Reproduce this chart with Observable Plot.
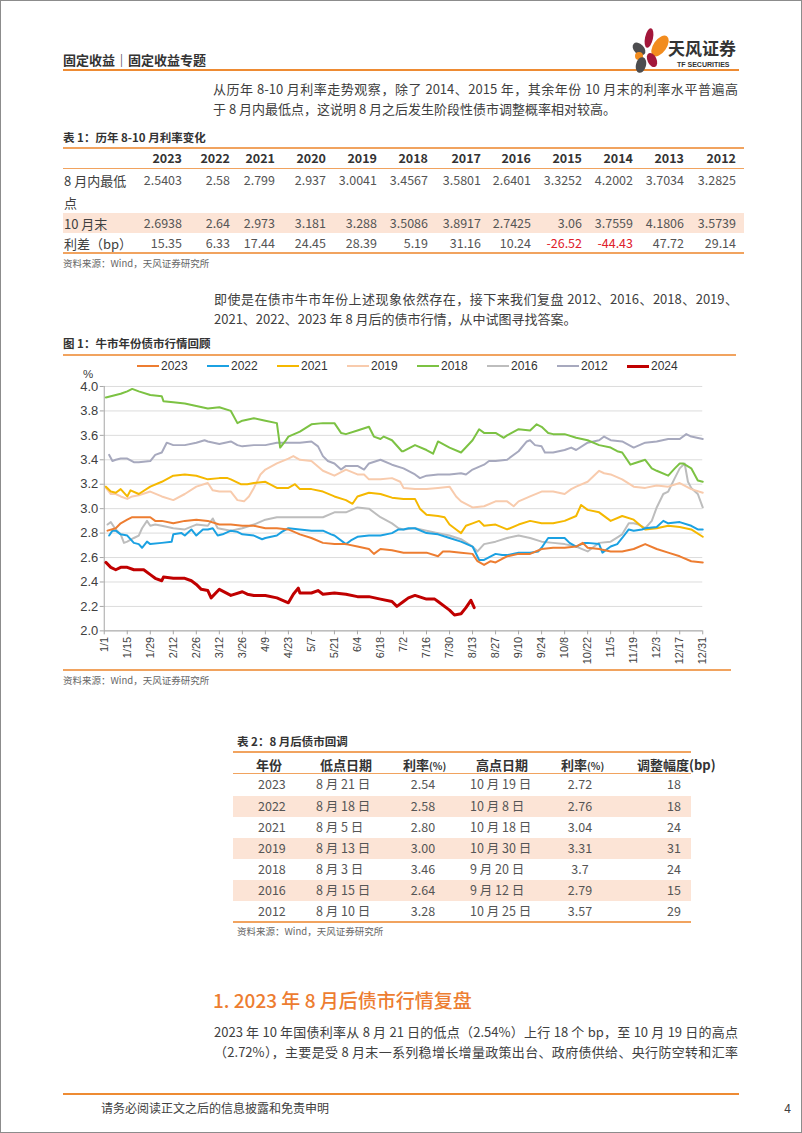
<!DOCTYPE html>
<html><head><meta charset="utf-8">
<script src="https://cdn.jsdelivr.net/npm/d3@7"></script>
<script src="https://cdn.jsdelivr.net/npm/@observablehq/plot@0.6"></script>
<style>
body{margin:0;background:#fff;}
#page{position:relative;width:802px;height:1133px;overflow:hidden;font-family:"Noto Sans CJK SC","Noto Sans",sans-serif;color:#404040;box-sizing:border-box;border:1px solid #8c8c8c;background:#fff;}
.t{position:absolute;white-space:nowrap;line-height:1;}
.b{position:absolute;}
</style></head><body><div id="page"></div>
<script>
// ---------- chart data (day offset from 1/1, yield %) ----------
const tickLabels = ["1/1","1/15","1/29","2/12","2/26","3/12","3/26","4/9","4/23","5/7","5/21","6/4","6/18","7/2","7/16","7/30","8/13","8/27","9/10","9/24","10/8","10/22","11/5","11/19","12/3","12/17","12/31"];
const tickDays = [0,14,28,42,56,70,84,98,112,126,140,154,168,182,196,210,224,238,252,266,280,294,308,322,336,350,364];
const yTicks = [2.0,2.2,2.4,2.6,2.8,3.0,3.2,3.4,3.6,3.8,4.0];

const s2023 = [[2,2.82],[7,2.84],[10,2.88],[14,2.91],[17,2.93],[21,2.93],[28,2.93],[31,2.90],[35,2.90],[42,2.88],[49,2.90],[56,2.91],[63,2.90],[70,2.87],[77,2.87],[84,2.86],[91,2.86],[98,2.84],[105,2.84],[112,2.83],[119,2.79],[126,2.76],[133,2.72],[140,2.71],[147,2.71],[154,2.69],[161,2.67],[164,2.63],[168,2.67],[175,2.66],[182,2.64],[189,2.64],[196,2.64],[203,2.61],[206,2.65],[210,2.65],[217,2.64],[224,2.63],[227,2.57],[231,2.54],[235,2.57],[238,2.56],[242,2.59],[245,2.61],[252,2.63],[259,2.63],[266,2.67],[273,2.68],[280,2.68],[287,2.69],[291,2.72],[294,2.68],[301,2.67],[308,2.65],[315,2.65],[322,2.67],[329,2.71],[336,2.67],[343,2.64],[350,2.61],[357,2.57],[364,2.56]];
const s2022 = [[3,2.78],[5,2.82],[7,2.82],[10,2.79],[14,2.78],[18,2.72],[21,2.71],[23,2.68],[26,2.73],[28,2.71],[35,2.72],[41,2.73],[42,2.79],[47,2.80],[49,2.78],[53,2.83],[56,2.78],[60,2.83],[63,2.83],[66,2.84],[69,2.78],[72,2.79],[77,2.82],[81,2.81],[84,2.79],[91,2.78],[96,2.75],[98,2.76],[105,2.78],[108,2.81],[112,2.84],[119,2.83],[126,2.82],[133,2.82],[138,2.79],[140,2.78],[147,2.71],[150,2.74],[154,2.77],[161,2.78],[168,2.78],[175,2.80],[179,2.83],[182,2.83],[185,2.84],[189,2.84],[196,2.80],[203,2.79],[210,2.76],[217,2.73],[224,2.69],[228,2.58],[231,2.58],[238,2.63],[242,2.62],[245,2.62],[252,2.64],[259,2.64],[264,2.65],[266,2.68],[270,2.76],[273,2.76],[280,2.76],[283,2.72],[287,2.69],[292,2.72],[294,2.72],[301,2.71],[303,2.64],[308,2.69],[312,2.71],[315,2.76],[319,2.83],[322,2.82],[327,2.83],[329,2.84],[336,2.85],[340,2.90],[343,2.88],[350,2.89],[357,2.86],[361,2.83],[364,2.83]];
const s2021 = [[1,3.18],[4,3.14],[7,3.13],[10,3.16],[14,3.10],[16,3.15],[21,3.12],[28,3.18],[35,3.22],[42,3.27],[49,3.28],[56,3.27],[63,3.24],[70,3.25],[75,3.25],[77,3.24],[83,3.20],[87,3.20],[91,3.21],[98,3.22],[105,3.17],[112,3.17],[116,3.20],[119,3.16],[126,3.16],[133,3.14],[140,3.10],[147,3.07],[151,3.04],[154,3.10],[161,3.13],[168,3.12],[175,3.09],[182,3.08],[189,3.08],[192,3.00],[196,2.95],[203,2.94],[207,2.93],[210,2.87],[214,2.83],[217,2.80],[220,2.86],[224,2.88],[228,2.90],[231,2.86],[238,2.87],[245,2.83],[252,2.87],[259,2.90],[266,2.88],[273,2.88],[280,2.90],[287,2.94],[290,3.03],[294,2.99],[301,2.97],[308,2.90],[315,2.94],[322,2.91],[329,2.83],[336,2.84],[343,2.86],[350,2.85],[357,2.83],[364,2.77]];
const s2019 = [[1,3.17],[4,3.12],[7,3.12],[10,3.10],[14,3.08],[17,3.10],[21,3.11],[28,3.14],[35,3.10],[42,3.07],[49,3.12],[56,3.18],[63,3.21],[66,3.15],[70,3.14],[77,3.14],[81,3.07],[85,3.06],[88,3.10],[91,3.17],[95,3.28],[98,3.32],[105,3.37],[112,3.41],[115,3.43],[119,3.40],[126,3.39],[133,3.31],[140,3.27],[147,3.32],[154,3.28],[158,3.28],[161,3.24],[168,3.24],[175,3.25],[180,3.22],[182,3.17],[189,3.16],[196,3.16],[203,3.17],[210,3.18],[214,3.10],[217,3.06],[224,3.01],[231,3.02],[238,3.06],[245,3.06],[249,3.02],[252,3.06],[259,3.10],[266,3.14],[273,3.14],[280,3.12],[284,3.16],[287,3.18],[294,3.22],[301,3.31],[304,3.29],[308,3.28],[315,3.24],[322,3.18],[329,3.17],[336,3.19],[343,3.18],[350,3.21],[357,3.16],[364,3.13]];
const s2018 = [[1,3.91],[7,3.93],[10,3.94],[14,3.96],[17,3.98],[21,3.96],[28,3.93],[35,3.92],[36,3.88],[42,3.87],[49,3.86],[56,3.84],[63,3.82],[70,3.83],[77,3.80],[81,3.70],[84,3.72],[91,3.74],[98,3.72],[105,3.70],[107,3.50],[110,3.55],[112,3.59],[119,3.63],[126,3.69],[133,3.70],[140,3.70],[144,3.62],[147,3.61],[154,3.64],[161,3.67],[164,3.59],[168,3.57],[170,3.59],[175,3.56],[181,3.47],[182,3.47],[189,3.52],[196,3.48],[200,3.45],[203,3.55],[210,3.50],[217,3.46],[224,3.56],[228,3.65],[231,3.62],[238,3.62],[243,3.58],[245,3.60],[252,3.65],[259,3.64],[263,3.69],[266,3.67],[270,3.62],[273,3.61],[280,3.61],[287,3.58],[294,3.56],[301,3.52],[308,3.50],[312,3.47],[315,3.46],[320,3.36],[322,3.37],[329,3.40],[333,3.33],[336,3.31],[343,3.27],[347,3.33],[350,3.37],[352,3.37],[357,3.33],[361,3.23],[364,3.22]];
const s2016 = [[2,2.87],[4,2.89],[7,2.83],[10,2.79],[12,2.72],[14,2.73],[18,2.76],[21,2.78],[23,2.84],[26,2.90],[28,2.86],[31,2.87],[35,2.86],[42,2.84],[49,2.83],[56,2.87],[63,2.86],[66,2.92],[69,2.84],[77,2.82],[84,2.84],[91,2.87],[98,2.91],[105,2.93],[112,2.93],[119,2.93],[126,2.93],[133,2.93],[140,2.97],[147,2.97],[154,3.01],[161,3.00],[168,2.93],[175,2.88],[179,2.84],[182,2.83],[189,2.84],[196,2.82],[203,2.80],[210,2.78],[217,2.75],[224,2.69],[227,2.65],[231,2.71],[238,2.73],[245,2.76],[252,2.78],[259,2.76],[266,2.73],[273,2.72],[280,2.71],[287,2.69],[294,2.65],[298,2.69],[301,2.72],[308,2.73],[315,2.79],[319,2.88],[322,2.88],[325,2.87],[329,2.84],[333,2.90],[336,3.01],[340,3.12],[343,3.14],[347,3.25],[350,3.33],[353,3.37],[355,3.22],[357,3.17],[361,3.12],[364,3.01]];
const s2012 = [[3,3.44],[5,3.39],[7,3.40],[10,3.41],[14,3.41],[18,3.38],[21,3.38],[28,3.39],[31,3.44],[35,3.46],[38,3.54],[42,3.52],[49,3.52],[56,3.54],[61,3.56],[63,3.55],[70,3.53],[77,3.55],[81,3.52],[84,3.51],[91,3.52],[98,3.52],[105,3.54],[112,3.54],[119,3.54],[126,3.55],[130,3.51],[133,3.43],[136,3.39],[140,3.37],[144,3.32],[147,3.35],[154,3.35],[158,3.32],[161,3.37],[168,3.40],[175,3.36],[182,3.33],[189,3.28],[192,3.25],[196,3.27],[203,3.28],[210,3.28],[217,3.29],[220,3.28],[224,3.32],[231,3.36],[234,3.39],[238,3.39],[245,3.40],[252,3.47],[257,3.55],[259,3.56],[262,3.52],[266,3.51],[268,3.46],[273,3.46],[280,3.48],[284,3.50],[287,3.48],[294,3.54],[301,3.56],[304,3.59],[308,3.56],[315,3.55],[322,3.50],[329,3.54],[336,3.55],[343,3.57],[350,3.57],[354,3.61],[357,3.59],[364,3.57]];
const s2024 = [[1,2.56],[4,2.52],[7,2.50],[10,2.52],[14,2.52],[18,2.50],[21,2.50],[24,2.50],[28,2.46],[31,2.43],[35,2.41],[36,2.44],[42,2.43],[49,2.43],[53,2.41],[56,2.38],[59,2.34],[63,2.33],[65,2.27],[70,2.34],[77,2.29],[84,2.32],[87,2.30],[91,2.29],[98,2.29],[105,2.27],[112,2.23],[115,2.30],[118,2.35],[119,2.31],[126,2.31],[130,2.33],[133,2.30],[140,2.31],[147,2.30],[154,2.28],[161,2.28],[168,2.26],[175,2.24],[178,2.20],[182,2.24],[185,2.27],[189,2.29],[196,2.26],[201,2.26],[203,2.24],[210,2.17],[213,2.13],[217,2.14],[220,2.19],[223,2.25],[225,2.19]];

const legendNames = ["2023","2022","2021","2019","2018","2016","2012","2024"];
const legendColors = ["#ED7D31","#1BA1E2","#F5B800","#F8CBAD","#7CC243","#BDBDBD","#A7A9BE","#C00000"];

// ---------- table data ----------
const t1Years = ["2023","2022","2021","2020","2019","2018","2017","2016","2015","2014","2013","2012"];
const t1AugLow = ["2.5403","2.58","2.799","2.937","3.0041","3.4567","3.5801","2.6401","3.3252","4.2002","3.7034","3.2825"];
const t1OctEnd = ["2.6938","2.64","2.973","3.181","3.288","3.5086","3.8917","2.7425","3.06","3.7559","4.1806","3.5739"];
const t1Spread = ["15.35","6.33","17.44","24.45","28.39","5.19","31.16","10.24","-26.52","-44.43","47.72","29.14"];

const t2Years = ["2023","2022","2021","2019","2018","2016","2012"];
const t2LowDate = ["8 月 21 日","8 月 18 日","8 月 5 日","8 月 13 日","8 月 3 日","8 月 15 日","8 月 10 日"];
const t2LowRate = ["2.54","2.58","2.80","3.00","3.46","2.64","3.28"];
const t2HighDate = ["10 月 19 日","10 月 8 日","10 月 18 日","10 月 30 日","9 月 20 日","9 月 12 日","10 月 25 日"];
const t2HighRate = ["2.72","2.76","3.04","3.31","3.7","2.79","3.57"];
const t2Adj = ["18","18","24","31","24","15","29"];

// ---------- helpers ----------
const page = document.getElementById("page");
function T(x, y, s, str, o = {}) {
  const d = document.createElement("div");
  d.className = "t";
  if (o.html) d.innerHTML = str; else d.textContent = str;
  let left = x;
  if (o.align === "right") { left = x - 100; d.style.width = "100px"; d.style.textAlign = "right"; }
  if (o.align === "center") { left = x - 50; d.style.width = "100px"; d.style.textAlign = "center"; }
  if (o.justify) { d.style.width = o.justify + "px"; d.style.textAlign = "justify"; d.style.textAlignLast = "justify"; d.style.whiteSpace = "normal"; d.style.height = s + "px"; d.style.overflow = "visible"; }
  d.style.left = left + "px";
  d.style.top = (y - s / 2) + "px";
  d.style.fontSize = s + "px";
  if (o.weight) d.style.fontWeight = o.weight;
  if (o.color) d.style.color = o.color;
  if (o.font) d.style.fontFamily = o.font;
  page.appendChild(d);
  return d;
}
function R(x, y, w, h, c) {
  const d = document.createElement("div");
  d.className = "b";
  Object.assign(d.style, {left: x + "px", top: y + "px", width: w + "px", height: h + "px", background: c});
  page.appendChild(d);
  return d;
}
const ORANGE = "#EE8B33", TLINE = "#F1A35F", PINK = "#FCE4D6";
const ARIAL = '"Liberation Sans", Arial, sans-serif';

// ---------- header ----------
T(62, 58, 13, "固定收益｜固定收益专题", {weight: 700, color: "#333"});
R(62, 68, 676, 2, ORANGE);
const logo = document.createElementNS("http://www.w3.org/2000/svg", "svg");
logo.setAttribute("width", "40"); logo.setAttribute("height", "46");
logo.style.position = "absolute"; logo.style.left = "628px"; logo.style.top = "26px";
logo.innerHTML = `
<ellipse cx="20" cy="11" rx="4" ry="10" fill="#A3173A" transform="rotate(12 20 11)"/>
<ellipse cx="31" cy="19" rx="6.5" ry="12" fill="#F28C1E" transform="rotate(35 31 19)"/>
<ellipse cx="10" cy="22" rx="5" ry="7.5" fill="#4D4D4F" transform="rotate(-45 10 22)"/>
<ellipse cx="10" cy="29" rx="4" ry="4" fill="#F28C1E"/>
<ellipse cx="12" cy="38" rx="5" ry="8" fill="#4D4D4F" transform="rotate(15 12 38)"/>
<ellipse cx="23" cy="33" rx="4.5" ry="7.5" fill="#A3173A" transform="rotate(-25 23 33)"/>`;
page.appendChild(logo);
T(667, 46, 17, "天风证券", {weight: 700, color: "#333"});
T(676, 63, 7, "TF SECURITIES", {weight: 700, color: "#333", font: ARIAL});

// ---------- paragraph 1 ----------
T(212, 87, 13, "从历年 8-10 月利率走势观察，除了 2014、2015 年，其余年份 10 月末的利率水平普遍高", {justify: 525});
T(212, 107, 13, "于 8 月内最低点，这说明 8 月之后发生阶段性债市调整概率相对较高。");

// ---------- table 1 ----------
T(62, 137, 11.5, "表 1：历年 8-10 月利率变化", {weight: 700, color: "#333"});
R(62, 146, 681, 1.5, TLINE);
R(62, 167, 681, 1, TLINE);
R(62, 212, 681, 20, PINK);
R(62, 251, 681, 1.5, TLINE);
const t1Right = [181,229,274,325,376,427,480,530,581,632,683,735];
t1Years.forEach((v, i) => T(t1Right[i], 157, 12.5, v, {align: "right", weight: 700, color: "#333"}));
T(63, 179, 13, "8 月内最低");
T(63, 201, 13, "点");
T(63, 222, 13, "10 月末");
T(63, 242, 13, "利差（bp）");
t1AugLow.forEach((v, i) => T(t1Right[i], 179, 12.5, v, {align: "right", color: "#555"}));
t1OctEnd.forEach((v, i) => T(t1Right[i], 222, 12.5, v, {align: "right", color: "#555"}));
t1Spread.forEach((v, i) => T(t1Right[i], 242, 12.5, v, {align: "right", color: v.startsWith("-") ? "#E0202A" : "#555"}));
T(62, 263, 9.5, "资料来源：Wind，天风证券研究所", {color: "#666"});

// ---------- paragraph 2 ----------
T(213, 297, 13, "即使是在债市牛市年份上述现象依然存在，接下来我们复盘 2012、2016、2018、2019、", {justify: 524});
T(213, 317, 13, "2021、2022、2023 年 8 月后的债市行情，从中试图寻找答案。");

// ---------- figure 1 ----------
T(62, 343, 11.5, "图 1：牛市年份债市行情回顾", {weight: 700, color: "#333"});
R(62, 353, 673, 1.5, TLINE);
legendNames.forEach((n, i) => {
  const x = 136 + 70 * i;
  const w = n === "2024" ? 3 : 2.5;
  R(x, 365 - w / 2, 22, w, legendColors[i]);
  T(x + 24, 365, 12, n, {font: ARIAL, color: "#333"});
});
T(82, 374, 11.5, "%", {font: ARIAL, color: "#404040"});

const seriesList = [
  {name: "2012", pts: s2012, w: 2},
  {name: "2016", pts: s2016, w: 2},
  {name: "2019", pts: s2019, w: 2},
  {name: "2018", pts: s2018, w: 2},
  {name: "2021", pts: s2021, w: 2},
  {name: "2022", pts: s2022, w: 2},
  {name: "2023", pts: s2023, w: 2},
  {name: "2024", pts: s2024, w: 3}
];
const colorOf = n => legendColors[legendNames.indexOf(n)];

const chart = Plot.plot({
  width: 802, height: 300,
  marginLeft: 103, marginRight: 99, marginTop: 10, marginBottom: 45,
  style: {fontFamily: ARIAL, background: "transparent", color: "#404040", overflow: "visible"},
  x: {domain: [0, 364]},
  y: {domain: [2, 4]},
  marks: [
    Plot.gridY(yTicks, {stroke: "#DCDCDC", strokeOpacity: 1, strokeWidth: 1}),
    Plot.axisY(yTicks, {tickFormat: d3.format(".1f"), tickSize: 4, tickPadding: 2, fontSize: 13, stroke: "#A6A6A6", fill: "#404040", label: null}),
    Plot.axisX(tickDays, {tickFormat: d => tickLabels[tickDays.indexOf(d)], tickRotate: -90, tickSize: 4, tickPadding: 2, fontSize: 11, stroke: "#A6A6A6", fill: "#404040", label: null}),
    Plot.ruleX([0], {stroke: "#A6A6A6"}),
    Plot.ruleY([2], {stroke: "#A6A6A6"}),
    ...seriesList.map(s => Plot.line(s.pts, {x: d => d[0], y: d => d[1], stroke: colorOf(s.name), strokeWidth: s.w, strokeLinejoin: "round"}))
  ]
});
chart.style.position = "absolute";
chart.style.left = "0px";
chart.style.top = "375px";
page.appendChild(chart);

R(62, 668, 668, 1.5, TLINE);
T(62, 680, 9.5, "资料来源：Wind，天风证券研究所", {color: "#666"});

// ---------- table 2 ----------
T(236, 741, 11.5, "表 2：8 月后债市回调", {weight: 700, color: "#333"});
R(232, 750, 458, 1.5, TLINE);
R(232, 772, 458, 1, TLINE);
const t2Y = [783, 805, 826, 847, 868, 889, 910];
t2Y.forEach((y, i) => { if (i % 2 === 1) R(232, y - 10.5, 458, 21, PINK); });
R(232, 920, 458, 1.5, TLINE);
T(255, 763, 13, "年份", {weight: 700, color: "#333"});
T(319, 763, 13, "低点日期", {weight: 700, color: "#333"});
T(402, 763, 13, '利率<span style="font-size:10px">(%)</span>', {weight: 700, color: "#333", html: true});
T(475, 763, 13, "高点日期", {weight: 700, color: "#333"});
T(560, 763, 13, '利率<span style="font-size:10px">(%)</span>', {weight: 700, color: "#333", html: true});
T(636, 763, 13, "调整幅度(bp)", {weight: 700, color: "#333"});
t2Y.forEach((y, i) => {
  T(257, y, 12.5, t2Years[i], {color: "#555"});
  T(315, y, 12.5, t2LowDate[i], {color: "#555"});
  T(422, y, 12.5, t2LowRate[i], {align: "center", color: "#555"});
  T(469, y, 12.5, t2HighDate[i], {color: "#555"});
  T(579, y, 12.5, t2HighRate[i], {align: "center", color: "#555"});
  T(673, y, 12.5, t2Adj[i], {align: "center", color: "#555"});
});
T(236, 931, 9.5, "资料来源：Wind，天风证券研究所", {color: "#666"});

// ---------- section 1 ----------
T(212, 998, 19, "1. 2023 年 8 月后债市行情复盘", {weight: 500, color: "#ED7D31"});
T(213, 1030, 13, "2023 年 10 年国债利率从 8 月 21 日的低点（2.54%）上行 18 个 bp，至 10 月 19 日的高点", {justify: 524});
T(213, 1050, 13, "（2.72%），主要是受 8 月末一系列稳增长增量政策出台、政府债供给、央行防空转和汇率", {justify: 524});

// ---------- footer ----------
R(62, 1092, 676, 2, ORANGE);
T(100, 1107, 12, "请务必阅读正文之后的信息披露和免责申明", {color: "#404040"});
T(790, 1107, 12, "4", {align: "right", color: "#404040"});
</script></body></html>
